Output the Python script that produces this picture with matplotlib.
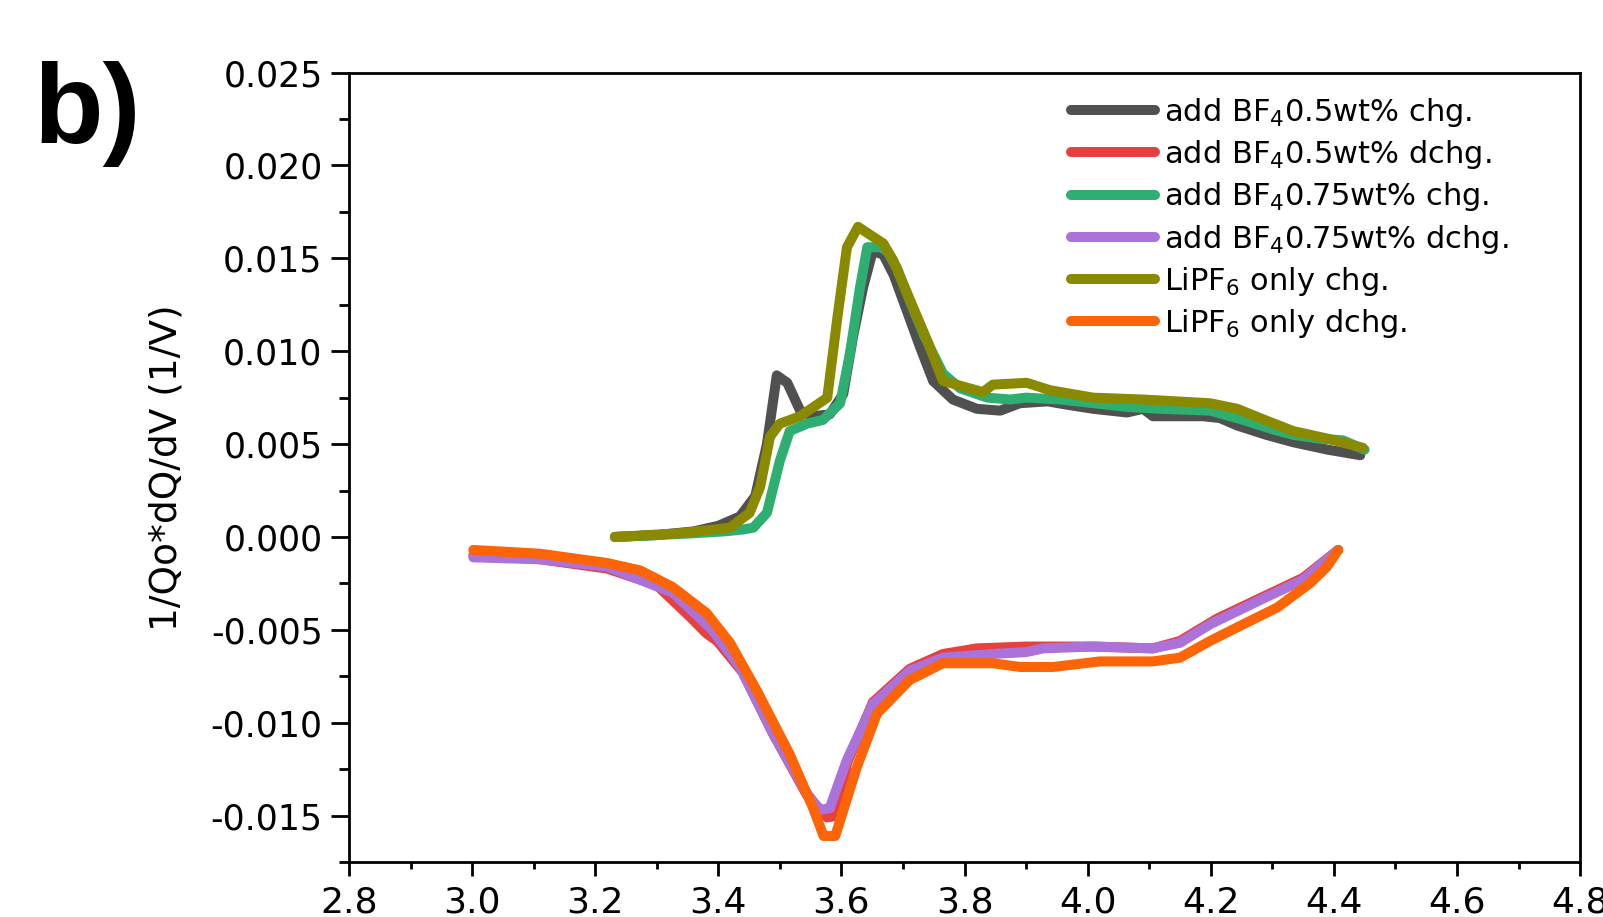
import matplotlib
matplotlib.use('Agg')
import matplotlib.pyplot as plt
from matplotlib.ticker import MultipleLocator

# voltage (V) / normalised dQ/dV values
gray_v = [3.232, 3.30, 3.36, 3.40, 3.435, 3.46, 3.479, 3.495, 3.512, 3.533, 3.554, 3.581,
          3.603, 3.619, 3.635, 3.651, 3.668, 3.685, 3.706, 3.728, 3.749, 3.781, 3.82,
          3.858, 3.890, 3.935, 3.97, 4.009, 4.064, 4.09, 4.106, 4.15, 4.187, 4.215,
          4.243, 4.29, 4.334, 4.39, 4.443]
gray_y = [0.0, 0.0001, 0.0003, 0.0006, 0.0011, 0.0022, 0.0050, 0.0087, 0.0083, 0.0068,
          0.0065, 0.0066, 0.0077, 0.0108, 0.0134, 0.0154, 0.0152, 0.0141, 0.0122, 0.0102,
          0.0084, 0.0074, 0.0069, 0.0068, 0.0072, 0.0073, 0.0071, 0.0069, 0.0067, 0.0069,
          0.0065, 0.0065, 0.0065, 0.0064, 0.0060, 0.0055, 0.0051, 0.0047, 0.0044]

red_v = [3.002, 3.11, 3.219, 3.30, 3.354, 3.381, 3.398, 3.44, 3.489, 3.544, 3.577, 3.595,
         3.609, 3.651, 3.711, 3.765, 3.82, 3.90, 4.009, 4.106, 4.15, 4.21, 4.28, 4.35, 4.407]
red_y = [-0.0010, -0.0012, -0.0017, -0.0026, -0.0043, -0.0052, -0.0056, -0.0073, -0.0106,
         -0.0139, -0.0151, -0.0150, -0.0122, -0.0089, -0.0071, -0.0063, -0.0060, -0.0059,
         -0.0059, -0.0060, -0.0056, -0.0044, -0.0033, -0.0022, -0.0007]

green_v = [3.232, 3.30, 3.36, 3.41, 3.44, 3.457, 3.479, 3.50, 3.516, 3.544, 3.570, 3.598,
           3.614, 3.630, 3.642, 3.663, 3.674, 3.69, 3.71, 3.735, 3.765, 3.793, 3.837,
           3.874, 3.90, 3.955, 4.01, 4.064, 4.118, 4.199, 4.253, 4.30, 4.334, 4.375,
           4.415, 4.45]
green_y = [0.0, 0.0001, 0.0002, 0.0003, 0.0004, 0.0005, 0.0013, 0.0041, 0.0057, 0.0061,
           0.0063, 0.0072, 0.0099, 0.0134, 0.0156, 0.0156, 0.0154, 0.0145, 0.0128, 0.0108,
           0.0088, 0.0080, 0.0075, 0.0074, 0.0075, 0.0074, 0.0072, 0.0070, 0.0069, 0.0068,
           0.0063, 0.0058, 0.0055, 0.0053, 0.0052, 0.0047]

purple_v = [3.002, 3.11, 3.219, 3.326, 3.39, 3.435, 3.489, 3.544, 3.565, 3.581, 3.609,
            3.651, 3.711, 3.765, 3.846, 3.90, 3.928, 4.009, 4.106, 4.15, 4.199, 4.28,
            4.35, 4.407]
purple_y = [-0.0011, -0.0012, -0.0016, -0.0030, -0.0050, -0.0070, -0.0106, -0.0138,
            -0.0147, -0.0146, -0.0120, -0.0090, -0.0072, -0.0065, -0.0063, -0.0062,
            -0.0060, -0.0059, -0.0060, -0.0057, -0.0047, -0.0034, -0.0023, -0.0007]

olive_v = [3.232, 3.338, 3.419, 3.451, 3.468, 3.484, 3.500, 3.533, 3.577, 3.593, 3.609,
           3.627, 3.668, 3.684, 3.716, 3.739, 3.765, 3.83, 3.846, 3.901, 3.939, 4.009,
           4.09, 4.199, 4.243, 4.28, 4.334, 4.389, 4.447]
olive_y = [0.0, 0.0002, 0.0005, 0.0013, 0.0027, 0.0054, 0.0061, 0.0065, 0.0075, 0.0117,
           0.0156, 0.0167, 0.0158, 0.0149, 0.0124, 0.0106, 0.0084, 0.0078, 0.0082, 0.0083,
           0.0079, 0.0075, 0.0074, 0.0072, 0.0069, 0.0064, 0.0057, 0.0053, 0.0048]

orange_v = [3.002, 3.11, 3.219, 3.273, 3.326, 3.381, 3.419, 3.463, 3.516, 3.554, 3.571,
            3.590, 3.625, 3.658, 3.711, 3.765, 3.846, 3.89, 3.944, 4.02, 4.106, 4.15,
            4.199, 4.253, 4.308, 4.361, 4.389, 4.407]
orange_y = [-0.0007, -0.0009, -0.0014, -0.0018, -0.0027, -0.0041, -0.0057, -0.0083,
            -0.0117, -0.0146, -0.0161, -0.0161, -0.0124, -0.0095, -0.0077, -0.0068,
            -0.0068, -0.0070, -0.0070, -0.0067, -0.0067, -0.0065, -0.0056, -0.0047,
            -0.0038, -0.0025, -0.0016, -0.0007]

labels = ['add BF$_4$0.5wt% chg.', 'add BF$_4$0.5wt% dchg.',
          'add BF$_4$0.75wt% chg.', 'add BF$_4$0.75wt% dchg.',
          'LiPF$_6$ only chg.', 'LiPF$_6$ only dchg.']
colors = ['#505050', '#e8403f', '#2fae72', '#ab72da', '#8a8a00', '#fc6405']

plt.rcParams['font.family'] = ['DejaVu Sans']
plt.rcParams['mathtext.fontset'] = 'dejavusans'

fig = plt.figure(figsize=(16.03, 9.17), dpi=100)
ax = fig.add_axes([0.2177, 0.060, 0.768, 0.8608])

series = [(gray_v, gray_y), (red_v, red_y), (green_v, green_y),
          (purple_v, purple_y), (olive_v, olive_y), (orange_v, orange_y)]
for (v, y), lab, c in zip(series, labels, colors):
    ax.plot(v, y, color=c, lw=7.2, label=lab,
            solid_capstyle='round', solid_joinstyle='round')

ax.set_xlim(2.8, 4.8)
ax.set_ylim(-0.0175, 0.025)
ax.xaxis.set_major_locator(MultipleLocator(0.2))
ax.xaxis.set_minor_locator(MultipleLocator(0.1))
ax.yaxis.set_major_locator(MultipleLocator(0.005))
ax.yaxis.set_minor_locator(MultipleLocator(0.0025))
ax.xaxis.set_major_formatter(plt.FormatStrFormatter('%.1f'))
ax.yaxis.set_major_formatter(plt.FormatStrFormatter('%.3f'))

for s in ax.spines.values():
    s.set_linewidth(2)
ax.tick_params(axis='x', which='major', direction='out', length=10, width=2,
               labelsize=26, pad=7)
ax.tick_params(axis='x', which='minor', direction='out', length=5, width=2)
ax.tick_params(axis='y', which='major', direction='out', length=13, width=2,
               labelsize=25, pad=6)
ax.tick_params(axis='y', which='minor', direction='out', length=7, width=2)

ax.set_ylabel('1/Qo*dQ/dV (1/V)', fontsize=27, labelpad=19)

ax.legend(loc='upper left', bbox_to_anchor=(1071 / 1603, 1 - 96 / 917),
          bbox_transform=fig.transFigure, frameon=False, fontsize=22,
          handlelength=2.75, handletextpad=0.3, labelspacing=0.3,
          borderpad=0, borderaxespad=0)

fig.text(33 / 1603, 1 - 143 / 917, 'b)', fontsize=82, fontweight='bold',
         family='Liberation Sans', ha='left', va='baseline')

fig.savefig('out.png', dpi=100)
